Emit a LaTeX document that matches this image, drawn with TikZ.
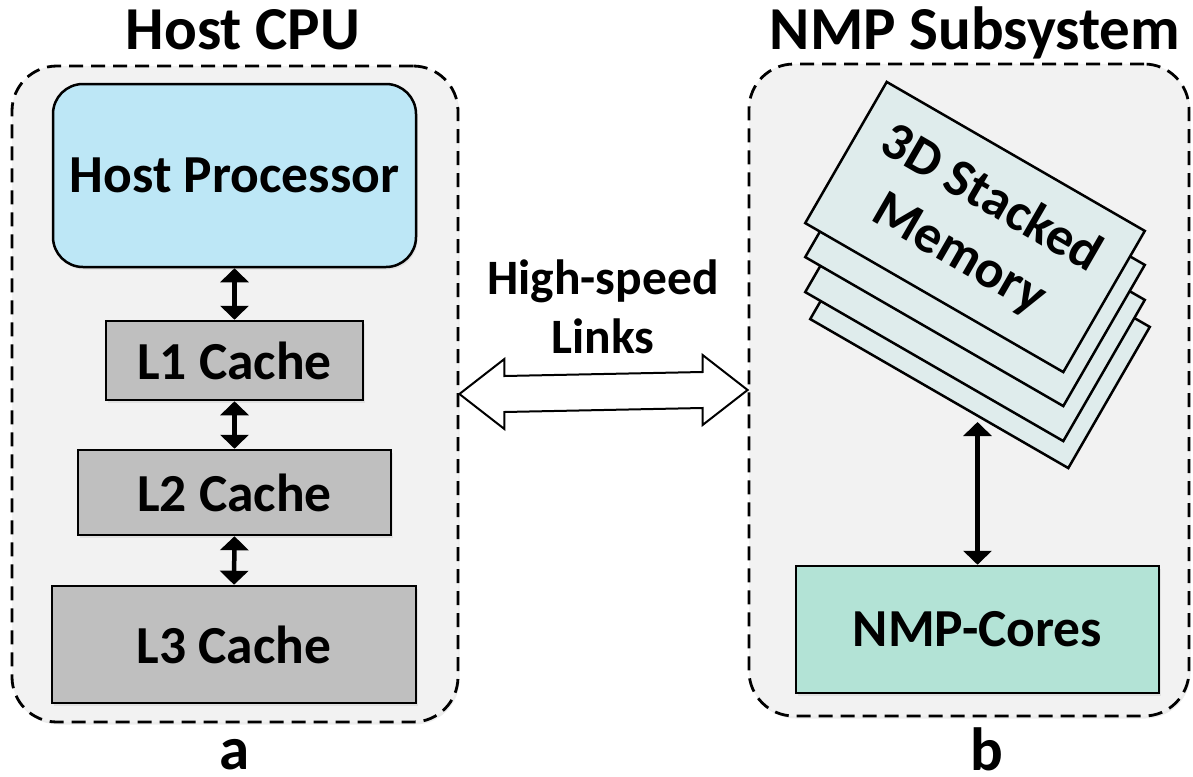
\documentclass[tikz,border=0pt]{standalone}
\usepackage{fontspec}
\setmainfont{Carlito}
\usetikzlibrary{arrows.meta,calc,shadows}
\definecolor{groupgray}{HTML}{F2F2F2}
\definecolor{cpublue}{HTML}{BDE7F6}
\definecolor{cachegray}{HTML}{BFBFBF}
\definecolor{memgreen}{HTML}{DFECEC}
\definecolor{coregreen}{HTML}{B3E3D6}
\newcommand\titlesize{\fontsize{61}{72}\selectfont}
\newcommand\boxsize{\fontsize{53.5}{64}\selectfont}
\newcommand\linksize{\fontsize{49.5}{59}\selectfont}

\begin{document}
\begin{tikzpicture}[x=1pt,y=-1pt]
  \tikzstyle{every node}=[font=\bfseries,inner sep=0pt]
  \tikzstyle{softshadow}=[drop shadow={shadow xshift=1.5pt,shadow yshift=-2.5pt,opacity=0.15}]
  \tikzstyle{group}=[draw,line width=2.8pt,dash pattern=on 14pt off 8pt,rounded corners=45pt,fill=groupgray,softshadow]
  \tikzstyle{unit}=[draw,line width=2.5pt,font=\bfseries\boxsize,softshadow]
  \tikzstyle{memlayer}=[draw,line width=2.5pt,fill=memgreen,minimum width=298pt,minimum height=163pt,rotate=-30]
  \tikzstyle{link}=[line width=4.5pt,{Triangle[width=28pt,length=14pt]}-{Triangle[width=28pt,length=14pt]}]
  \tikzstyle{caption}=[anchor=base,font=\bfseries\titlesize]
  \useasboundingbox (0,0) rectangle (1193,776);
  \node[group,minimum width=446pt,minimum height=656pt] (host) at (235,394) {};
  \node[group,minimum width=440pt,minimum height=652pt] (nmp) at (969,390) {};
  \node[caption] (hosttitle) at (243,50) {Host CPU};
  \node[caption] (nmptitle) at (975,50) {NMP Subsystem};
  \node[caption] (hostlabel) at (235,769) {a};
  \node[caption] (nmplabel) at (987,770) {b};
  \node[unit,fill=cpublue,rounded corners=30pt,minimum width=363pt,minimum height=183pt] (proc) at (234.5,175.5) {Host Processor};
  \node[unit,fill=cachegray,minimum width=257pt,minimum height=79pt] (lone) at (234.5,360.5) {L1 Cache};
  \node[unit,fill=cachegray,minimum width=313pt,minimum height=85pt] (ltwo) at (234.5,492.5) {L2 Cache};
  \node[unit,fill=cachegray,minimum width=364pt,minimum height=117pt] (lthree) at (234,644.5) {L3 Cache};
  \draw[link] (proc.south) -- (lone.north);
  \draw[link] (lone.south) -- (ltwo.north);
  \draw[link] (ltwo.south) -- (lthree.north);
  \node[memlayer] (mem4) at (980,323) {};
  \node[memlayer] (mem3) at (975,296) {};
  \node[memlayer] (mem2) at (975,261) {};
  \node[memlayer,align=center,font=\bfseries\boxsize] (mem1) at (975,227) {3D Stacked\\Memory};
  \node[unit,fill=coregreen,minimum width=363pt,minimum height=127pt] (cores) at (977.5,629.5) {NMP-Cores};
  \coordinate (memfoot) at (977.5,422);
  \draw[link] (cores.north) -- (memfoot);
  \draw[line width=2pt,fill=white] (host.east) -- ($(host.east)+(45,-35)$) -- ($(host.east)+(45,-18)$)
        -- ($(nmp.west)+(-45,-18)$) -- ($(nmp.west)+(-45,-35)$) -- (nmp.west)
        -- ($(nmp.west)+(-45,35)$) -- ($(nmp.west)+(-45,18)$)
        -- ($(host.east)+(45,18)$) -- ($(host.east)+(45,35)$) -- cycle;
  \node[align=center,font=\bfseries\linksize] (linktext) at (603,307) {High-speed\\Links};
\end{tikzpicture}
\end{document}
